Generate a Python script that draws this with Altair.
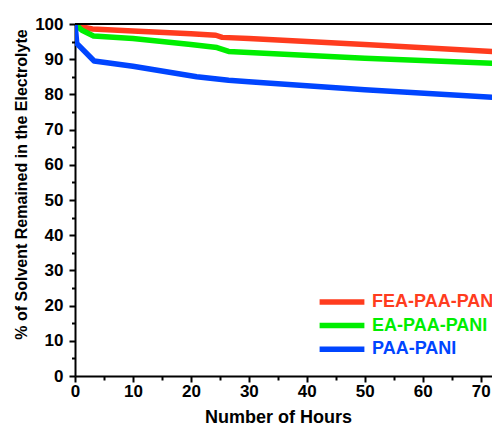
import altair as alt
import pandas as pd

# ---- data ----
fea_hours = [0, 1, 3, 10, 20, 24.3, 25.4, 30, 50, 73.1, 75]
fea_vals = [100, 99.2, 98.6, 98.0, 97.2, 96.8, 96.2, 95.9, 94.2, 92.1, 91.9]

ea_hours = [0, 1.2, 3.2, 10, 20, 24.5, 26.5, 30, 50, 73.1, 75]
ea_vals = [100, 98.2, 96.6, 95.9, 94.2, 93.3, 92.2, 91.9, 90.3, 88.8, 88.7]

paa_hours = [0, 0.3, 3.3, 10, 21, 26.5, 30, 50, 73.1, 75]
paa_vals = [100, 94.5, 89.5, 88.0, 85.0, 84.0, 83.6, 81.3, 79.1, 78.9]

series_names = ["FEA-PAA-PANI", "EA-PAA-PANI", "PAA-PANI"]
series_colors = ["#ff3c1e", "#00ee00", "#0045ff"]

x_ticks = list(range(0, 75, 5))
y_ticks = list(range(0, 105, 5))

rows = []
for name, hs, vs in zip(series_names, [fea_hours, ea_hours, paa_hours],
                        [fea_vals, ea_vals, paa_vals]):
    for i, (h, v) in enumerate(zip(hs, vs)):
        rows.append({"hours": h, "value": v, "series": name, "idx": i})
df = pd.DataFrame(rows)

FONT = "Liberation Sans"

label_color_expr = (
    "datum.label == 'FEA-PAA-PANI' ? '%s' : datum.label == 'EA-PAA-PANI' ? '%s' : '%s'"
    % tuple(series_colors)
)

x_scale = alt.Scale(domain=[0, 71.95], nice=False, zero=False)
y_scale = alt.Scale(domain=[0, 100], nice=False)

lines = alt.Chart(df).mark_line(strokeWidth=5.5, strokeJoin="round", clip=True).encode(
    x=alt.X(
        "hours:Q",
        scale=x_scale,
        axis=alt.Axis(
            title="Number of Hours",
            values=x_ticks,
            labelOverlap=False,
            labelFlush=False,
            labelExpr="datum.value % 10 === 0 ? datum.label : ''",
            tickSize={"condition": {"test": "datum.value % 10 === 0", "value": 6}, "value": 4},
            tickWidth=2,
            tickColor="black",
            domainColor="black",
            domainWidth=2,
            grid=False,
            labelFont=FONT,
            labelFontSize=17,
            labelFontWeight="bold",
            labelColor="black",
            labelPadding=1,
            titleFont=FONT,
            titleFontSize=18,
            titleFontWeight="bold",
            titleColor="black",
            titleX=203,
            titleY=46,
            titleBaseline="alphabetic",
            titleAnchor="middle",
        ),
    ),
    y=alt.Y(
        "value:Q",
        scale=y_scale,
        axis=alt.Axis(
            title="% of Solvent Remained in the Electrolyte",
            values=y_ticks,
            labelOverlap=False,
            labelFlush=False,
            labelExpr="datum.value % 10 === 0 ? datum.label : ''",
            tickSize={"condition": {"test": "datum.value % 10 === 0", "value": 6}, "value": 3.5},
            tickWidth=2,
            tickColor="black",
            domainColor="black",
            domainWidth=2,
            grid=False,
            labelFont=FONT,
            labelFontSize=17,
            labelFontWeight="bold",
            labelColor="black",
            labelPadding=6,
            titleFont=FONT,
            titleFontSize=16,
            titleFontWeight="bold",
            titleColor="black",
            titleAngle=270,
            titleX=-49,
            titleY=160,
            titleBaseline="alphabetic",
            titleAlign="center",
        ),
    ),
    color=alt.Color(
        "series:N",
        scale=alt.Scale(domain=series_names, range=series_colors),
        legend=alt.Legend(
            title=None,
            orient="none",
            legendX=258,
            legendY=269,
            padding=0,
            symbolType="M-5.6,0H5.6",
            symbolSize=64,
            symbolStrokeWidth=5.5,
            labelFont=FONT,
            labelFontSize=18,
            labelFontWeight="bold",
            labelColor={"expr": label_color_expr},
            labelOffset=21,
            rowPadding=1.6,
            labelLimit=300,
        ),
    ),
    order="idx:Q",
)

top_border = alt.Chart(pd.DataFrame({"y": [100]})).mark_rule(
    color="black", strokeWidth=2
).encode(y=alt.value(0))

chart = alt.layer(lines, top_border).properties(
    width=417,
    height=352,
    autosize=alt.AutoSizeParams(type="none"),
    padding={"left": 67, "top": 16, "right": 0, "bottom": 49},
).configure_view(stroke=None).configure(background="white")

chart.save("out.html", embed_options={"renderer": "svg", "actions": False})
